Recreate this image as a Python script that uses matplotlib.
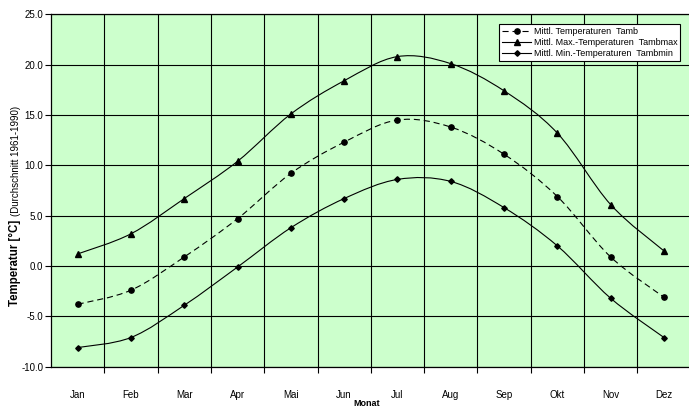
import numpy as np
import matplotlib
matplotlib.use("Agg")
import matplotlib.pyplot as plt
from matplotlib.path import Path
from matplotlib.patches import PathPatch
from matplotlib.lines import Line2D

plt.rcParams['font.family'] = ['Liberation Sans', 'DejaVu Sans']

months = ["Jan", "Feb", "Mar", "Apr", "Mai", "Jun", "Jul", "Aug", "Sep", "Okt", "Nov", "Dez"]
tamb = [-3.8, -2.4, 0.9, 4.7, 9.2, 12.3, 14.5, 13.8, 11.1, 6.9, 0.9, -3.1]
tamb_max = [1.2, 3.2, 6.7, 10.4, 15.1, 18.4, 20.8, 20.1, 17.4, 13.2, 6.1, 1.5]
tamb_min = [-8.1, -7.1, -3.9, -0.1, 3.8, 6.7, 8.6, 8.4, 5.8, 2.0, -3.2, -7.1]
labels = ["Mittl. Temperaturen  Tamb",
          "Mittl. Max.-Temperaturen  Tambmax",
          "Mittl. Min.-Temperaturen  Tambmin"]


def smooth_path(x, y):
    # Excel-style smoothed line: cubic Bezier through every point
    pts = np.column_stack([x, y]).astype(float)
    n = len(pts)
    verts = [pts[0]]
    codes = [Path.MOVETO]
    for i in range(n - 1):
        p0 = pts[i - 1] if i > 0 else pts[i]
        p1 = pts[i]
        p2 = pts[i + 1]
        p3 = pts[i + 2] if i + 2 < n else pts[i + 1]
        verts += [p1 + (p2 - p0) / 6, p2 - (p3 - p1) / 6, p2]
        codes += [Path.CURVE4] * 3
    return Path(verts, codes)


W, H = 689, 407
fig = plt.figure(figsize=(W / 100, H / 100), dpi=100)
ax = fig.add_axes([51 / W, 1 - 366.7 / H, 639.6 / W, 352.4 / H])
ax.set_facecolor("#ccffcc")

x = np.arange(len(months))
series = [
    (tamb, (0, (5.5, 3.5)), "o", 3.8),
    (tamb_max, "-", "^", 4.3),
    (tamb_min, "-", "D", 2.8),
]
handles = []
for (vals, ls, mk, ms), lab in zip(series, labels):
    ax.add_patch(PathPatch(smooth_path(x, vals), fill=False, edgecolor="black",
                           linewidth=0.8, linestyle=ls, zorder=3))
    ax.plot(x, vals, linestyle="none", marker=mk, markersize=ms,
            color="black", zorder=4)
    handles.append(Line2D([], [], color="black", linewidth=0.8, linestyle=ls,
                          marker=mk, markersize=ms, label=lab))

ax.set_xlim(-0.5, 11.5)
ax.set_ylim(-10, 25)
ax.set_xticks(x)
ax.set_xticklabels(months)
ax.set_xticks(np.arange(0.5, 11, 1), minor=True)
ax.set_yticks(np.arange(-10, 26, 5))
ax.set_yticklabels([f"{v:.1f}" for v in np.arange(-10, 26, 5)])

ax.tick_params(axis="x", which="major", length=0, pad=17, labelsize=7)
ax.tick_params(axis="x", which="minor", length=4, width=0.8, direction="out")
ax.tick_params(axis="y", length=4, width=0.8, pad=1.5, labelsize=7)
ax.grid(True, axis="y", which="major", color="black", linewidth=0.8)
ax.grid(True, axis="x", which="minor", color="black", linewidth=0.8)
ax.grid(False, axis="x", which="major")
ax.set_axisbelow(True)

for side in ["left", "bottom", "top"]:
    ax.spines[side].set_linewidth(0.9)
    ax.spines[side].set_color("black")
ax.spines["right"].set_visible(False)

leg = ax.legend(handles=handles, loc="upper right",
                bbox_to_anchor=((680 - 51) / 639.6, (366.7 - 24) / 352.4),
                borderaxespad=0, fontsize=6.5, fancybox=False, framealpha=1,
                edgecolor="black", handlelength=3.2, handletextpad=0.3,
                labelspacing=0.25, borderpad=0.3)
leg.get_frame().set_linewidth(0.8)

fig.text(15 / W, 1 - 306 / H, "Temperatur [°C]", rotation=90, ha="center",
         va="bottom", fontsize=8.3, fontweight="bold")
fig.text(16.5 / W, 1 - 216 / H, "(Durchschnitt 1961-1990)", rotation=90,
         ha="center", va="bottom", fontsize=7)
fig.text(367 / W, 1 - 403 / H, "Monat", ha="center", va="center",
         fontsize=6.5, fontweight="bold")

fig.savefig("out.png", dpi=100)
